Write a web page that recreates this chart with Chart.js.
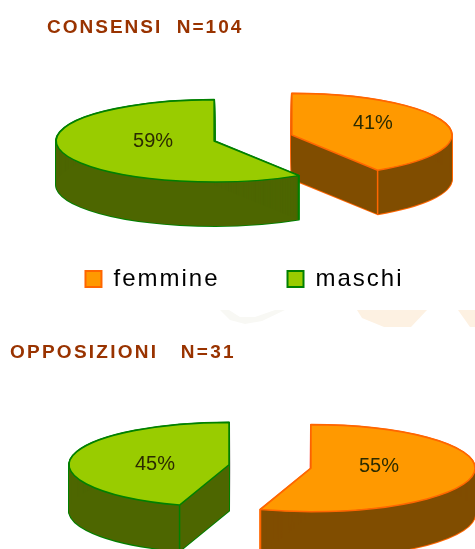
<!DOCTYPE html>
<html>
<head>
<meta charset="utf-8">
<style>
html,body{margin:0;padding:0;background:#fff;width:475px;height:549px;overflow:hidden}
canvas{position:absolute;left:0;display:block;filter:blur(.4px)}
#c1{top:0}
#c2{top:330px}
.wm{position:absolute;left:0;top:310px;width:475px;height:18px}
#w1{background:#fdf1e2;clip-path:polygon(357px 0,427px 0,411px 17px,384px 17px,362px 8px)}
#w2{background:#fdf1e2;clip-path:polygon(458px 0,475px 0,475px 17px,470px 17px)}
#w3{background:#f8f8f4;clip-path:polygon(220px 0,229px 0,240px 7px,255px 7px,275px 0,285px 0,262px 11px,245px 14px,230px 10px)}
</style>
<script src="https://cdn.jsdelivr.net/npm/chart.js@4"></script>
</head>
<body>
<div class="wm" id="w1"></div>
<div class="wm" id="w2"></div>
<div class="wm" id="w3"></div>
<canvas id="c1" width="475" height="301" style="width:475px;height:301px"></canvas>
<canvas id="c2" width="530" height="219" style="width:530px;height:219px"></canvas>
<script>
const categories = ['femmine', 'maschi'];
const consensiValues = [41, 59];
const opposizioniValues = [55, 45];
const topColors = ['#FF9900', '#99CC00'];
const wallColors = ['#804D00', '#4D6600'];
const edgeColors = ['#FF6600', '#008000'];
const FONT = '"Liberation Sans", Arial, sans-serif';

const pie3d = {
  id: 'pie3d',
  geometry(arc, i, o) {
    const off = (arc.options.offset || 0) / 4;
    const mid = (arc.trueStart + arc.trueEnd) / 2;
    return {
      x: o.cx + Math.cos(mid) * off,
      y: o.cy + Math.sin(mid) * off * o.squash,
      r: o.radii[i]
    };
  },
  path(ctx, g, arc, o, dy) {
    ctx.beginPath();
    ctx.moveTo(g.x, g.y + dy);
    ctx.ellipse(g.x, g.y + dy, g.r, g.r * o.squash, 0, arc.trueStart, arc.trueEnd);
    ctx.closePath();
  },
  beforeUpdate(chart, args, o) { chart.ctx.letterSpacing = o.letterSpacing; },
  beforeDraw(chart, args, o) { chart.ctx.letterSpacing = o.letterSpacing; },
  afterLayout(chart, args, o) {
    if (chart.titleBlock) chart.titleBlock.left = o.titleLeft;
  },
  // Chart.js grows an exploded arc and trims its sweep; undo both so every slice keeps its true shape.
  afterDatasetsUpdate(chart, args, o) {
    chart.getDatasetMeta(0).data.forEach((arc, i) => {
      const off = (arc.options.offset || 0) / 4;
      const grown = off * (1 - Math.sin(Math.min(Math.PI, arc.circumference)));
      const trim = grown / (2 * Math.PI * o.radii[i]);
      arc.trueStart = arc.startAngle;
      arc.trueEnd = arc.endAngle;
      arc.outerRadius = o.radii[i] - grown;
      arc.startAngle -= trim;
      arc.endAngle += trim;
    });
  },
  beforeDatasetsDraw(chart, args, o) {
    const ctx = chart.ctx;
    const arcs = chart.getDatasetMeta(0).data;
    arcs.forEach((arc, i) => {
      const g = this.geometry(arc, i, o);
      ctx.save();
      ctx.strokeStyle = arc.options.borderColor;
      ctx.lineWidth = 2;
      ctx.lineJoin = 'round';
      for (let d = 0; d <= o.depth; d++) { this.path(ctx, g, arc, o, d); ctx.stroke(); }
      ctx.fillStyle = chart.data.datasets[0].wallColor[i];
      for (let d = 0; d <= o.depth; d++) { this.path(ctx, g, arc, o, d); ctx.fill(); }
      ctx.strokeStyle = arc.options.borderColor;
      ctx.lineWidth = 1.5;
      [arc.trueStart, arc.trueEnd].forEach(a => {
        if (Math.sin(a) > 0.01) {
          const px = g.x + Math.cos(a) * g.r;
          const py = g.y + Math.sin(a) * g.r * o.squash;
          ctx.beginPath(); ctx.moveTo(px, py); ctx.lineTo(px, py + o.depth); ctx.stroke();
        }
      });
      ctx.restore();
    });
  },
  beforeDatasetDraw(chart, args, o) {
    const ctx = chart.ctx;
    const arc = chart.getDatasetMeta(0).data[0];
    ctx.save();
    ctx.translate(o.cx, o.cy);
    ctx.scale(1, o.squash);
    ctx.translate(-arc.x, -arc.y);
  },
  afterDatasetDraw(chart, args, o) {
    const ctx = chart.ctx;
    ctx.restore();
    const arcs = chart.getDatasetMeta(0).data;
    const values = chart.data.datasets[0].data;
    arcs.forEach((arc, i) => {
      const g = this.geometry(arc, i, o);
      ctx.save();
      ctx.strokeStyle = arc.options.borderColor;
      ctx.lineWidth = 1.5;
      ctx.lineJoin = 'round';
      this.path(ctx, g, arc, o, 0);
      ctx.stroke();
      ctx.restore();
    });
    arcs.forEach((arc, i) => {
      const g = this.geometry(arc, i, o);
      ctx.save();
      ctx.letterSpacing = '0px';
      ctx.font = '20px ' + FONT;
      ctx.fillStyle = '#2b2b00';
      ctx.textAlign = 'center';
      ctx.textBaseline = 'middle';
      ctx.fillText(values[i] + '%', g.x + o.labelShift[i][0], g.y + o.labelShift[i][1]);
      ctx.restore();
    });
  }
};

function makeLegendItems() {
  return categories.map((text, i) => ({
    text,
    index: i,
    fillStyle: topColors[i],
    strokeStyle: edgeColors[i],
    lineWidth: 2,
    hidden: false,
    fontColor: '#000'
  }));
}

function makePie(id, values, titleText, titleTop, layoutLeft, geo, showLegend) {
  const canvas = document.getElementById(id);
  return new Chart(canvas, {
    type: 'pie',
    data: {
      labels: categories,
      datasets: [{
        data: values,
        backgroundColor: topColors,
        borderColor: edgeColors,
        wallColor: wallColors,
        borderWidth: 0,
        offset: geo.offset,
        clip: false
      }]
    },
    options: {
      responsive: false,
      animation: false,
      devicePixelRatio: 1,
      layout: { padding: { left: layoutLeft, right: 0, top: 0, bottom: 0 } },
      plugins: {
        tooltip: { enabled: false },
        title: {
          display: true,
          text: titleText,
          align: 'start',
          color: '#993300',
          font: { family: FONT, size: 19, weight: 'bold' },
          padding: { top: titleTop, bottom: 0 }
        },
        legend: {
          display: showLegend,
          position: 'bottom',
          labels: {
            boxWidth: 16,
            boxHeight: 16,
            padding: 68,
            color: '#000',
            font: { family: FONT, size: 24 },
            generateLabels: makeLegendItems
          }
        },
        pie3d: geo
      }
    },
    plugins: [pie3d]
  });
}

makePie('c1', consensiValues, 'CONSENSI  N=104', 16, 14, {
  cx: 253, cy: 138, squash: 0.26, depth: 44, offset: 162, radii: [160, 158], titleLeft: 47,
  letterSpacing: '2px', labelShift: [[81, -12], [-61, 1]]
}, true);

makePie('c2', opposizioniValues, 'OPPOSIZIONI   N=31', 11, 10, {
  cx: 270, cy: 136.5, squash: 0.265, depth: 46, offset: 166, radii: [164, 160], titleLeft: 10,
  letterSpacing: '2.25px', labelShift: [[68, -2], [-74, 0]]
}, false);
</script>
</body>
</html>
